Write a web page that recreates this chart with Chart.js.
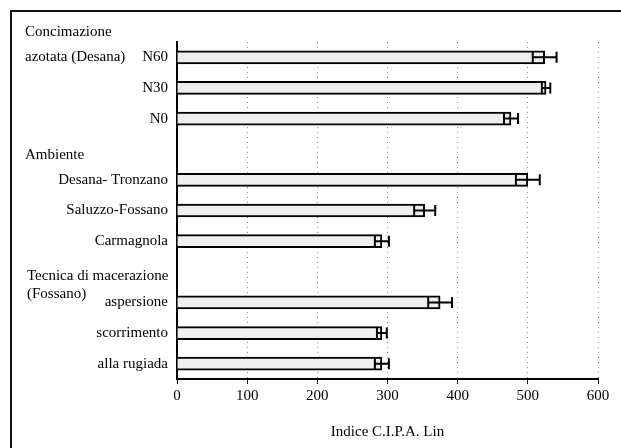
<!DOCTYPE html>
<html>
<head>
<meta charset="utf-8">
<script src="https://cdn.jsdelivr.net/npm/chart.js@4/dist/chart.umd.min.js"></script>
<style>
  html, body { margin: 0; padding: 0; background: #fff; }
  #wrap { width: 621px; height: 448px; position: relative; }
</style>
</head>
<body>
<div id="wrap"><canvas id="c" width="621" height="448"></canvas></div>
<script>
// ---- data ----
const categories = ["N60", "N30", "N0", "", "Desana- Tronzano", "Saluzzo-Fossano", "Carmagnola", "", "aspersione", "scorrimento", "alla rugiada"];
const values = [524, 526, 476, null, 500, 353, 292, null, 375, 292, 292];
const errors = [17, 6, 10, null, 17, 15, 10, null, 17, 7, 10];
const groupHeaders = [
  { index: 0, lines: ["Concimazione", "azotata (Desana)"] },
  { index: 3, lines: ["Ambiente"] },
  { index: 7, lines: ["Tecnica di macerazione", "(Fossano)"] }
];
const xTicks = [0, 100, 200, 300, 400, 500, 600];
const xTitle = "Indice C.I.P.A. Lin";

const FONT = "'Liberation Serif', 'Times New Roman', serif";

// style/layout for group headers (offsets from category center, px)
const headerLayout = {
  0: { x: 25, dy: [-25, 0] },
  3: { x: 25, dy: [6] },
  7: { x: 27, dy: [4, 22] }
};

const framePlugin = {
  id: 'frame',
  beforeDraw(chart) {
    const ctx = chart.ctx;
    ctx.save();
    ctx.fillStyle = '#fff';
    ctx.fillRect(0, 0, chart.width, chart.height);
    ctx.strokeStyle = '#111';
    ctx.lineWidth = 2;
    ctx.beginPath();
    ctx.moveTo(11, chart.height);
    ctx.lineTo(11, 11);
    ctx.lineTo(chart.width, 11);
    ctx.stroke();
    ctx.restore();
  }
};

const headerPlugin = {
  id: 'headers',
  afterDraw(chart) {
    const ctx = chart.ctx;
    const y = chart.scales.y;
    ctx.save();
    ctx.font = "15px " + FONT;
    ctx.fillStyle = '#000';
    ctx.textAlign = 'left';
    ctx.textBaseline = 'middle';
    groupHeaders.forEach(h => {
      const lay = headerLayout[h.index];
      const cy = y.getPixelForValue(h.index);
      h.lines.forEach((t, i) => ctx.fillText(t, lay.x, cy + lay.dy[i]));
    });
    ctx.restore();
  }
};

const errorPlugin = {
  id: 'errorbars',
  afterDatasetsDraw(chart) {
    const ctx = chart.ctx;
    const xs = chart.scales.x, ys = chart.scales.y;
    ctx.save();
    ctx.strokeStyle = '#000';
    ctx.lineWidth = 2;
    values.forEach((v, i) => {
      if (v == null || errors[i] == null) return;
      const yc = ys.getPixelForValue(i);
      const x1 = xs.getPixelForValue(v - errors[i]);
      const x2 = xs.getPixelForValue(v + errors[i]);
      const h = 5.5;
      ctx.beginPath();
      ctx.moveTo(x1, yc); ctx.lineTo(x2, yc);
      ctx.moveTo(x1, yc - h); ctx.lineTo(x1, yc + h);
      ctx.moveTo(x2, yc - h); ctx.lineTo(x2, yc + h);
      ctx.stroke();
    });
    ctx.restore();
  }
};

new Chart(document.getElementById('c'), {
  type: 'bar',
  data: {
    labels: categories,
    datasets: [{
      data: values,
      backgroundColor: '#efefef',
      borderColor: '#000',
      borderWidth: 2,
      barThickness: 13
    }]
  },
  options: {
    indexAxis: 'y',
    responsive: false,
    animation: false,
    layout: { padding: { left: 0, right: 23, top: 42, bottom: 0 } },
    plugins: { legend: { display: false }, tooltip: { enabled: false } },
    scales: {
      x: {
        min: 0, max: 600,
        afterBuildTicks(scale) { scale.ticks = xTicks.map(v => ({ value: v })); },
        afterFit(scale) { scale.height = 69; },
        grid: {
          color: '#8a8a8a', lineWidth: 1,
          drawTicks: true, tickLength: 5, tickColor: '#000', tickBorderDash: []
        },
        border: { display: true, color: '#000', width: 2, dash: [1, 4] },
        ticks: { color: '#000', font: { family: FONT, size: 15 }, padding: 3 },
        title: { display: true, text: xTitle, color: '#000', font: { family: FONT, size: 15 }, padding: { top: 0, bottom: 7 } }
      },
      y: {
        afterFit(scale) { scale.width = 177; },
        grid: { display: false, drawTicks: false },
        border: { display: true, color: '#000', width: 2 },
        ticks: { color: '#000', font: { family: FONT, size: 15 }, padding: 9, autoSkip: false }
      }
    }
  },
  plugins: [framePlugin, headerPlugin, errorPlugin]
});
</script>
</body>
</html>
